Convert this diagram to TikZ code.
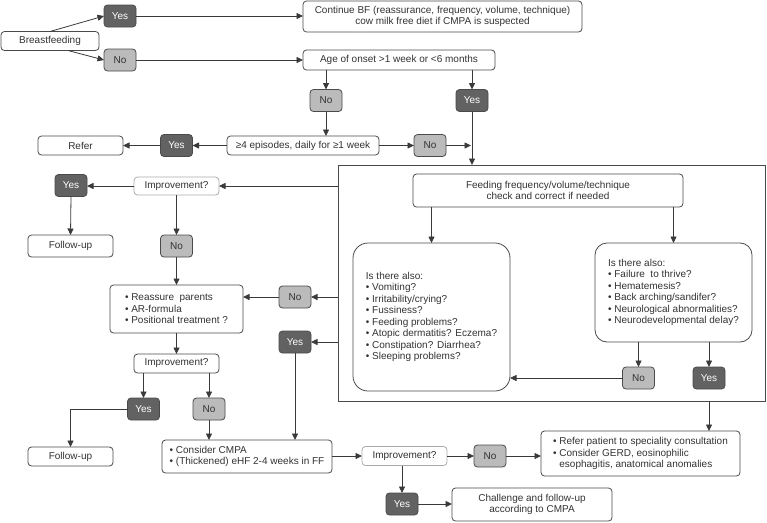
\documentclass[tikz,border=0pt]{standalone}
\usepackage{fontspec}
\setmainfont{Liberation Sans}
\usetikzlibrary{arrows.meta,calc}
\definecolor{txt}{HTML}{333333}
\definecolor{linec}{HTML}{3A3A3A}
\definecolor{boxc}{HTML}{4A4A4A}
\definecolor{lightc}{HTML}{ABABAB}
\definecolor{yesfill}{HTML}{626262}
\definecolor{nofill}{HTML}{BBBBBB}
\begin{document}
\begin{tikzpicture}[x=1pt,y=-1pt,
  font=\fontsize{10}{11.5}\selectfont,
  every node/.style={inner sep=0pt, outer sep=0pt, text=txt},
  tbox/.style={draw=boxc, fill=white, rounded corners=3.5pt, line width=0.8pt, align=center},
  lbox/.style={tbox, draw=lightc},
  yesbox/.style={tbox, fill=yesfill, draw=boxc, text=white, minimum width=32pt, minimum height=22pt},
  nobox/.style={tbox, fill=nofill, draw=boxc, minimum width=32pt, minimum height=22pt},
  bigbox/.style={draw=boxc, line width=0.8pt, fill=none},
  arr/.style={draw=linec, line width=0.8pt, -{Triangle[length=6.5pt,width=6pt]}},
  ln/.style={draw=linec, line width=0.8pt}
]
\useasboundingbox (0,0) rectangle (767,522);

% big frame
\node[bigbox, minimum width=427pt, minimum height=236pt] (big) at (551.5,283) {};

% top part
\node[tbox, minimum width=98pt, minimum height=19pt] (bf) at (50,41) {Breastfeeding};
\node[yesbox] (yes1) at (120,16) {Yes};
\node[nobox] (no1) at (120,60) {No};
\node[tbox, minimum width=279pt, minimum height=31pt] (cont) at (442.5,16.5)
  {Continue BF (reassurance, frequency, volume, technique)\\cow milk free diet if CMPA is suspected};
\node[tbox, minimum width=192pt, minimum height=20pt] (age) at (399,60) {Age of onset >1 week or <6 months};
\node[nobox] (no2) at (326,100.5) {No};
\node[yesbox] (yes2) at (472,100.5) {Yes};
\node[tbox, minimum width=152pt, minimum height=19pt] (epi) at (303,145.5) {≥4 episodes, daily for ≥1 week};
\node[nobox] (no3) at (430,145.5) {No};
\node[yesbox] (yes3) at (176.5,145.5) {Yes};
\node[tbox, minimum width=85pt, minimum height=19pt] (refer) at (80.5,145.5) {Refer};

% left column
\node[lbox, minimum width=85pt, minimum height=18pt] (impr1) at (176.5,186) {Improvement?};
\node[yesbox] (yes4) at (71,185.5) {Yes};
\node[tbox, minimum width=85pt, minimum height=22pt] (fu1) at (70.5,246) {Follow-up};
\node[nobox] (no4) at (176.5,246) {No};
\node[tbox, minimum width=133pt, minimum height=48pt, align=left] (reass) at (176.5,309)
  {• Reassure\ \ parents\\• AR-formula\\• Positional treatment ?};
\node[nobox] (no5) at (295,297) {No};
\node[yesbox] (yes5) at (295,342) {Yes};
\node[tbox, minimum width=85pt, minimum height=19pt] (impr2) at (176.5,363.5) {Improvement?};
\node[yesbox] (yes6) at (143.5,409) {Yes};
\node[nobox] (no6) at (209,409) {No};
\node[tbox, minimum width=85pt, minimum height=19pt] (fu2) at (70.5,456.5) {Follow-up};
\node[tbox, minimum width=170pt, minimum height=33pt, align=left] (cmpa) at (247,456.5)
  {• Consider CMPA\\• (Thickened) eHF 2-4 weeks in FF};
\node[lbox, minimum width=85pt, minimum height=19pt] (impr3) at (404.5,456) {Improvement?};
\node[nobox] (no7) at (490,456) {No};
\node[tbox, minimum width=199pt, minimum height=45pt, align=left] (referp) at (640.5,453.5)
  {• Refer patient to speciality consultation\\• Consider GERD, eosinophilic\\\phantom{• }esophagitis, anatomical anomalies};
\node[yesbox] (yes7) at (402,504) {Yes};
\node[tbox, minimum width=160pt, minimum height=33pt] (chall) at (532,504.5)
  {Challenge and follow-up\\according to CMPA};

% inside frame
\node[tbox, minimum width=270pt, minimum height=33pt] (feed) at (548,190.5)
  {Feeding frequency/volume/technique\\check and correct if needed};
\node[tbox, rounded corners=15pt, minimum width=157pt, minimum height=148pt, align=left] (lq) at (431.5,317)
  {Is there also:\\• Vomiting?\\• Irritability/crying?\\• Fussiness?\\• Feeding problems?\\• Atopic dermatitis? Eczema?\\• Constipation? Diarrhea?\\• Sleeping problems?};
\node[tbox, rounded corners=12pt, minimum width=157pt, minimum height=99pt, align=left] (rq) at (673.5,292.5)
  {Is there also:\\• Failure\ \ to thrive?\\• Hematemesis?\\• Back arching/sandifer?\\• Neurological abnormalities?\\• Neurodevelopmental delay?};
\node[nobox] (no8) at (638.5,378) {No};
\node[yesbox] (yes8) at (709,378) {Yes};

% connectors
\draw[arr] (bf.north) -- (yes1.west);
\draw[arr] ([xshift=18pt]bf.south) -- (no1.west);
\draw[arr] (yes1.east) -- (yes1.east -| cont.west);
\draw[arr] (no1.east) -- (no1.east -| age.west);
\draw[arr] (age.south -| no2) -- (no2.north);
\draw[arr] (age.south -| yes2) -- (yes2.north);
\draw[arr] (no2.south) -- (no2.south |- epi.north);
\draw[arr] (epi.east) -- (no3.west);
\draw[arr] (no3.east) -- ([xshift=-1pt]no3.east -| yes2);
\draw[arr] (yes2.south) -- (yes2.south |- big.north);
\draw[arr] (epi.west) -- (yes3.east);
\draw[arr] (yes3.west) -- (refer.east);

\draw[arr] (big.west |- impr1) -- (impr1.east);
\draw[arr] (impr1.west) -- (yes4.east |- impr1);
\draw[arr] (yes4.south) -- (fu1.north);
\draw[arr] (impr1.south) -- (no4.north);
\draw[arr] (no4.south) -- (reass.north);
\draw[arr] (big.west |- no5) -- (no5.east);
\draw[arr] (no5.west) -- (no5.west -| reass.east);
\draw[arr] (big.west |- yes5) -- (yes5.east);
\draw[arr] (yes5.south) -- (yes5.south |- cmpa.north);
\draw[arr] (reass.south) -- (impr2.north);
\draw[arr] (impr2.south -| yes6) -- (yes6.north);
\draw[arr] (impr2.south -| no6) -- (no6.north);
\draw[arr] (yes6.west) -| (fu2.north);
\draw[arr] (no6.south) -- (no6.south |- cmpa.north);
\draw[arr] (cmpa.east |- impr3) -- (impr3.west);
\draw[arr] (impr3.east) -- (no7.west);
\draw[arr] (no7.east) -- (no7.east -| referp.west);
\draw[arr] (impr3.south -| yes7) -- (yes7.north);
\draw[arr] (yes7.east) -- (yes7.east -| chall.west);
\draw[arr] (yes8 |- big.south) -- (yes8 |- referp.north);

\draw[arr] (feed.south -| lq) -- (lq.north);
\draw[arr] (feed.south -| rq) -- (rq.north);
\draw[arr] (rq.south -| no8) -- (no8.north);
\draw[arr] (rq.south -| yes8) -- (yes8.north);
\draw[arr] (no8.west) -- (no8.west -| lq.east);
\end{tikzpicture}
\end{document}
